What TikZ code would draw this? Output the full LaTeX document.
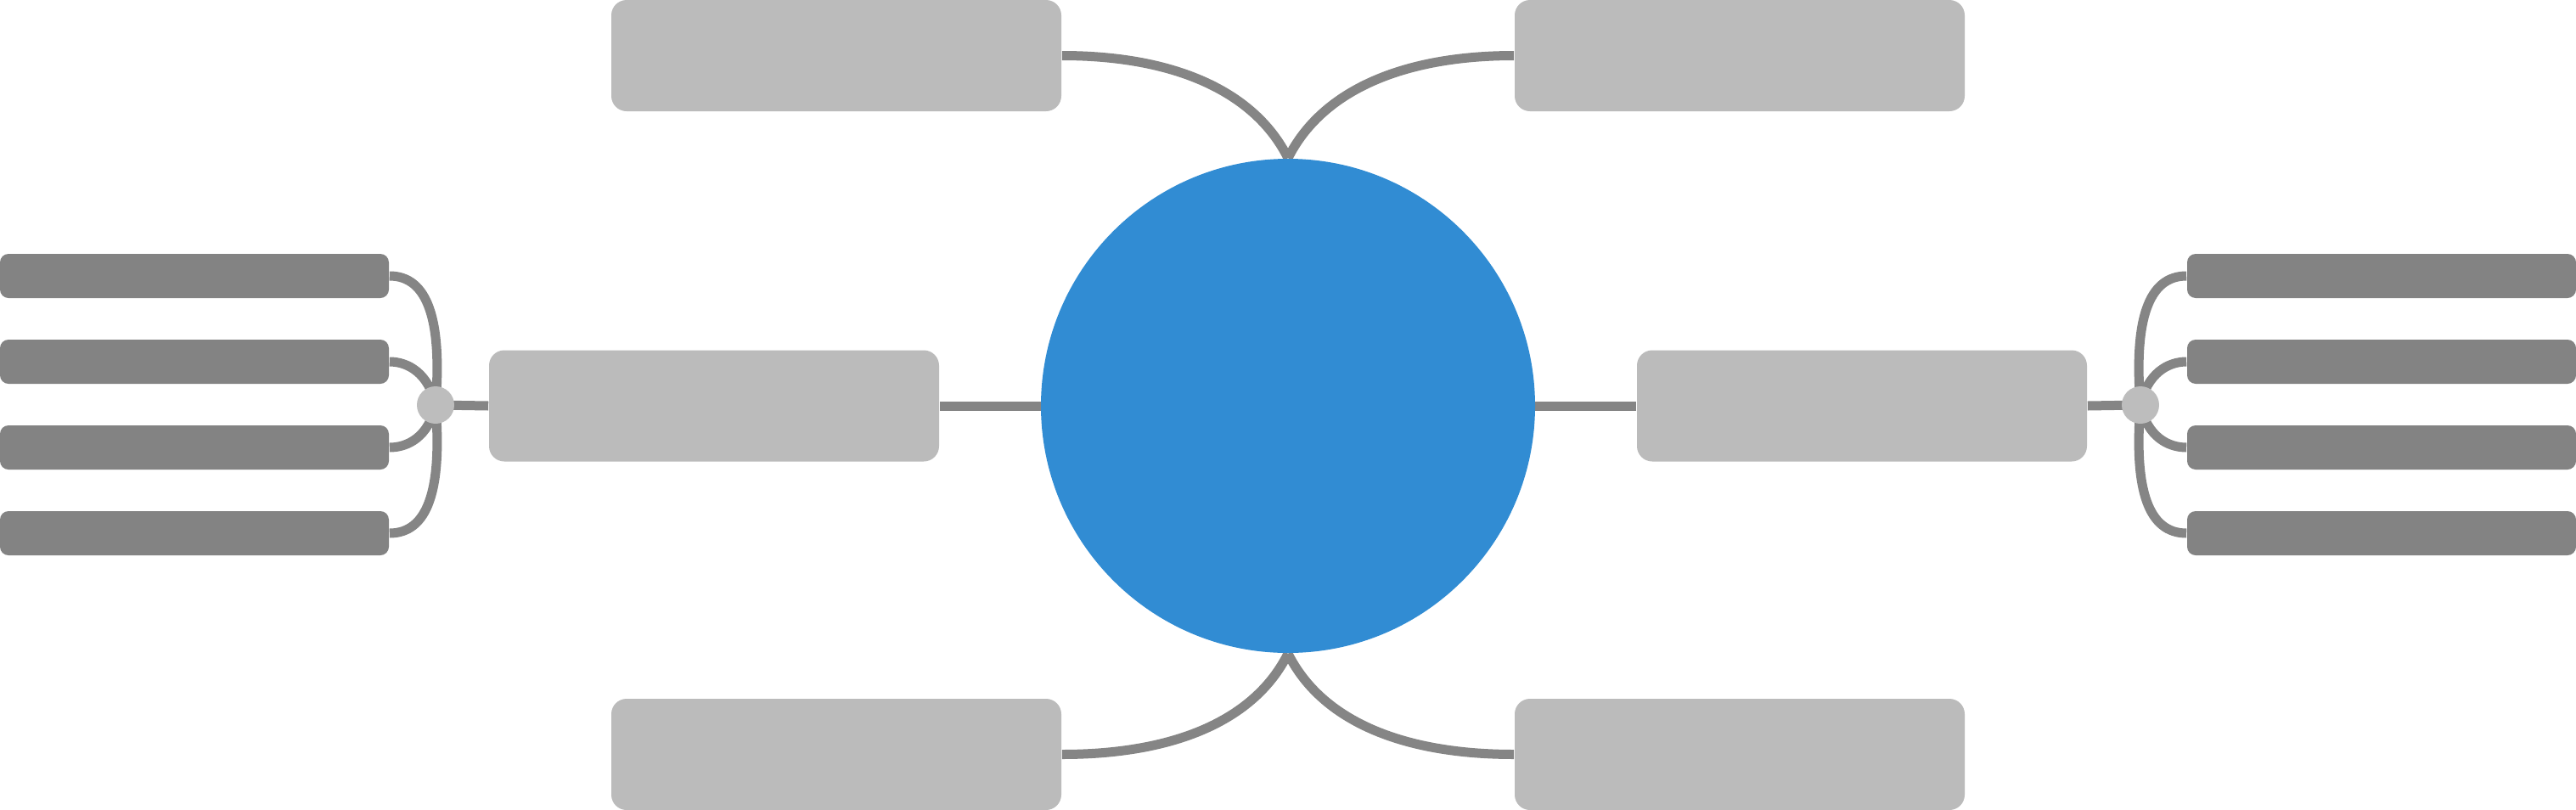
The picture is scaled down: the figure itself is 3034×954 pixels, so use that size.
\documentclass[tikz,border=0pt]{standalone}
\usetikzlibrary{backgrounds}
\definecolor{lightbox}{HTML}{BBBBBB}
\definecolor{darkbox}{HTML}{838383}
\definecolor{linkc}{HTML}{858585}
\definecolor{centerc}{HTML}{318CD3}
\definecolor{dotc}{HTML}{BDBDBD}
\tikzset{
  mainbox/.style={fill=lightbox, draw=none, rounded corners=4.5pt, inner sep=0pt, minimum width=132.5pt, minimum height=32.75pt},
  subbox/.style={fill=darkbox, draw=none, rounded corners=2.5pt, inner sep=0pt, minimum width=114.5pt, minimum height=13pt},
  hubdot/.style={circle, fill=dotc, draw=none, inner sep=0pt, minimum size=11pt},
  centre/.style={circle, fill=centerc, draw=none, inner sep=0pt, minimum size=145.5pt},
  link/.style={draw=linkc, line width=2.75pt}
}
\begin{document}
\begin{tikzpicture}[x=0.25pt, y=-0.25pt]
\useasboundingbox (0,0) rectangle (3034,954);
% centre
\node[centre] (c) at (1517,478) {};
% main topics
\node[mainbox] (tl) at (985,65.5) {};
\node[mainbox] (tr) at (2049,65.5) {};
\node[mainbox] (bl) at (985,888.5) {};
\node[mainbox] (br) at (2049,888.5) {};
\node[mainbox] (ml) at (841,478) {};
\node[mainbox] (mr) at (2193,478) {};
% hub dots
\node[hubdot] (ld) at (513,477) {};
\node[hubdot] (rd) at (2521,477) {};
% sub topics left
\node[subbox] (l1) at (229,325) {};
\node[subbox] (l2) at (229,426) {};
\node[subbox] (l3) at (229,527) {};
\node[subbox] (l4) at (229,628) {};
% sub topics right
\node[subbox] (r1) at (2805,325) {};
\node[subbox] (r2) at (2805,426) {};
\node[subbox] (r3) at (2805,527) {};
\node[subbox] (r4) at (2805,628) {};
\begin{pgfonlayer}{background}
\draw[link] (c.north) .. controls +(-40,-80) and +(130,0) .. (tl.east);
\draw[link] (c.north) .. controls +(40,-80) and +(-130,0) .. (tr.west);
\draw[link] (c.south) .. controls +(-40,80) and +(130,0) .. (bl.east);
\draw[link] (c.south) .. controls +(40,80) and +(-130,0) .. (br.west);
\draw[link] (ml.east) -- (c.center);
\draw[link] (mr.west) -- (c.center);
\draw[link] (ld.center) -- (ml.west);
\draw[link] (rd.center) -- (mr.east);
\draw[link] (ld.center) .. controls +(8,-100) and +(45,0) .. (l1.east);
\draw[link] (ld.center) .. controls +(-8,-37) and +(22,0) .. (l2.east);
\draw[link] (ld.center) .. controls +(-8,37) and +(22,0) .. (l3.east);
\draw[link] (ld.center) .. controls +(8,100) and +(45,0) .. (l4.east);
\draw[link] (rd.center) .. controls +(-8,-100) and +(-45,0) .. (r1.west);
\draw[link] (rd.center) .. controls +(8,-37) and +(-22,0) .. (r2.west);
\draw[link] (rd.center) .. controls +(8,37) and +(-22,0) .. (r3.west);
\draw[link] (rd.center) .. controls +(-8,100) and +(-45,0) .. (r4.west);
\end{pgfonlayer}
\end{tikzpicture}
\end{document}
